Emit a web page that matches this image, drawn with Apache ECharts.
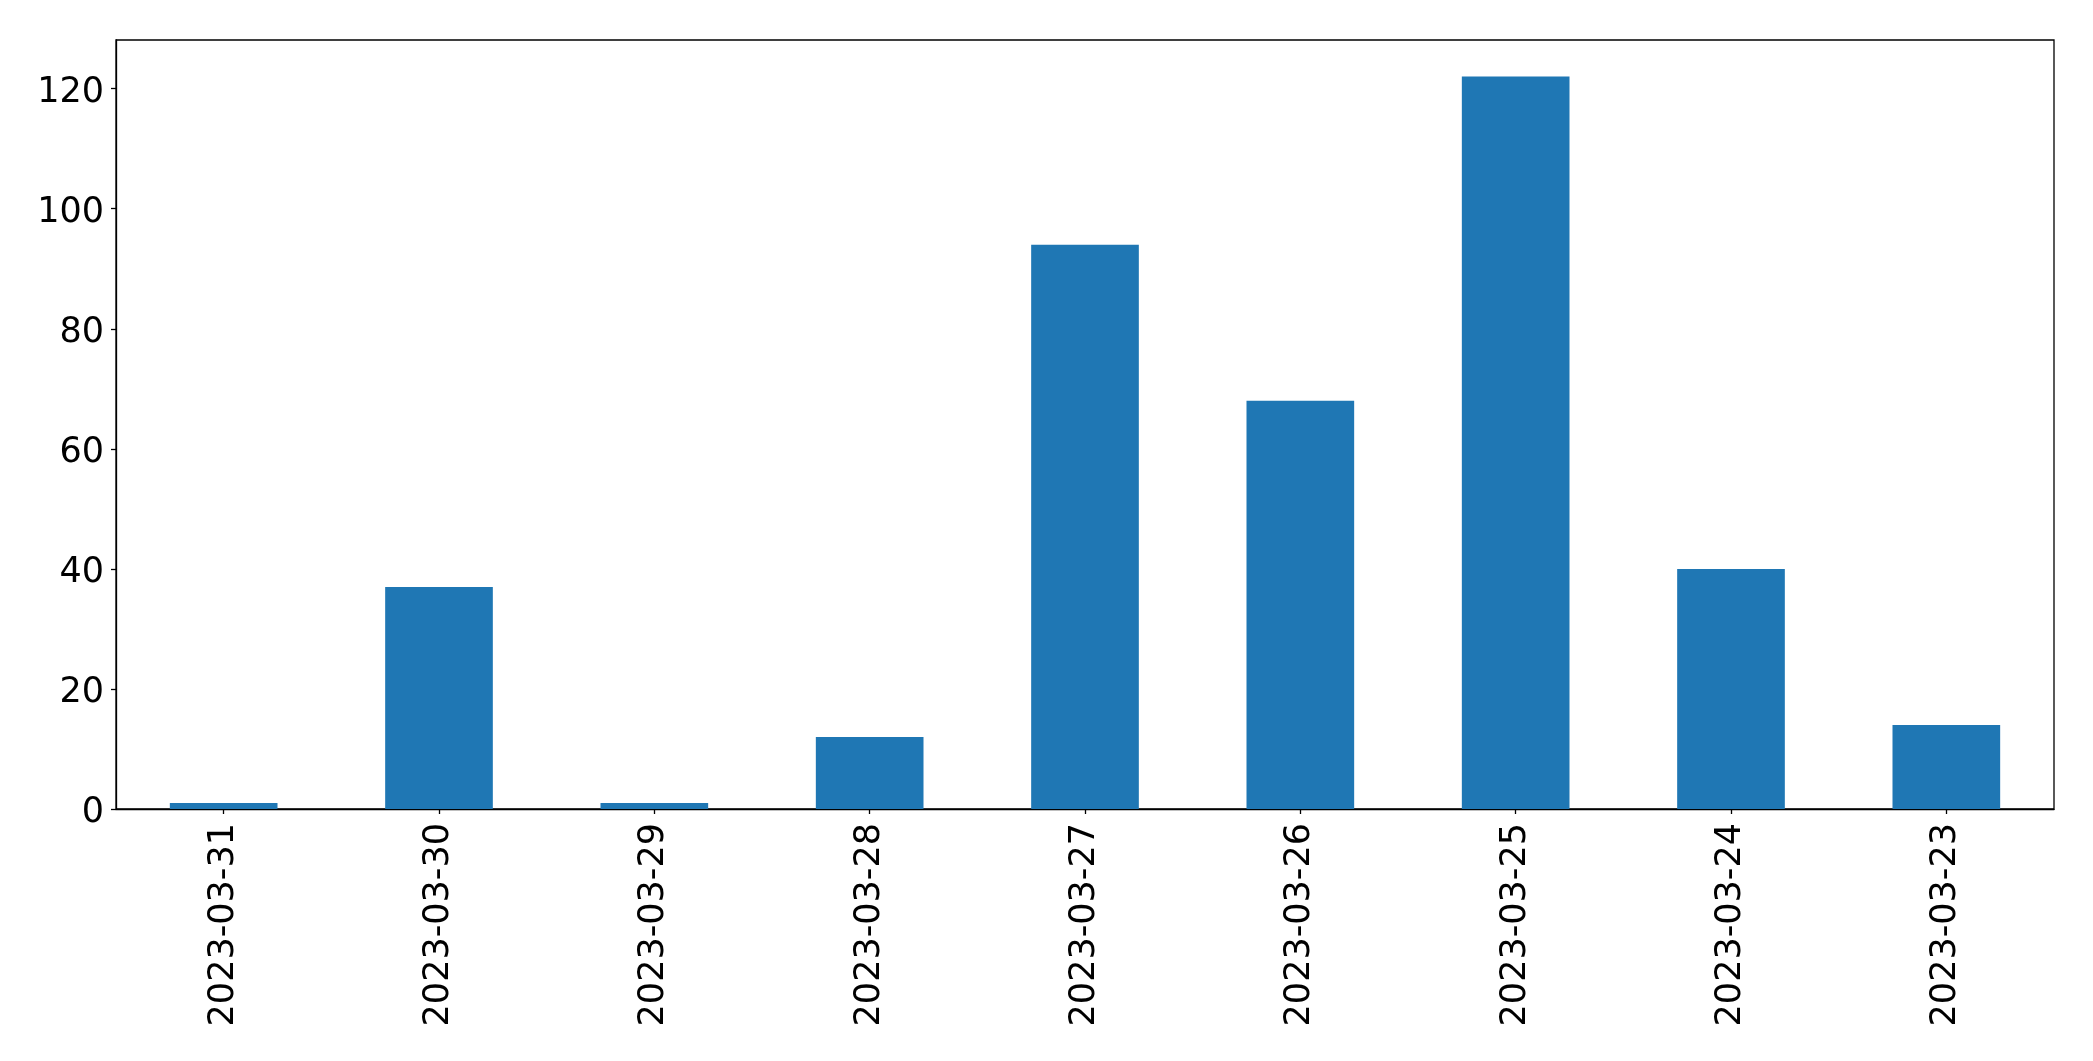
<!DOCTYPE html>
<html>
<head>
<meta charset="utf-8">
<script src="https://cdn.jsdelivr.net/npm/echarts@6/dist/echarts.min.js"></script>
<style>
html,body{margin:0;padding:0;background:#fff;}
#chart{width:2093px;height:1061px;}
</style>
</head>
<body>
<div id="chart"></div>
<script>
const categories = ['2023-03-31','2023-03-30','2023-03-29','2023-03-28','2023-03-27','2023-03-26','2023-03-25','2023-03-24','2023-03-23'];
const values = [1, 37, 1, 12, 94, 68, 122, 40, 14];
const yTicks = [0, 20, 40, 60, 80, 100, 120];

const chart = echarts.init(document.getElementById('chart'), null, {renderer: 'canvas'});
const font = 'DejaVu Sans';
chart.setOption({
  animation: false,
  backgroundColor: '#ffffff',
  grid: {
    left: 116, right: 39, top: 40, bottom: 252,
    show: true, borderColor: '#000', borderWidth: 1.3, backgroundColor: 'transparent'
  },
  xAxis: {
    type: 'category',
    data: categories,
    boundaryGap: true,
    axisLine: {show: true, lineStyle: {color: '#000', width: 1.3}},
    axisTick: {show: true, alignWithLabel: true, length: 5, lineStyle: {color: '#000', width: 1.3}},
    axisLabel: {rotate: 90, margin: 14, fontFamily: font, fontSize: 35, color: '#000', interval: 0},
    splitLine: {show: false}
  },
  yAxis: {
    type: 'value',
    min: 0,
    max: 128.1,
    axisLine: {show: true, lineStyle: {color: '#000', width: 1.3}},
    axisTick: {show: true, length: 5, lineStyle: {color: '#000', width: 1.3}, customValues: yTicks},
    axisLabel: {
      margin: 12, fontFamily: font, fontSize: 35, color: '#000', customValues: yTicks,
      formatter: '{a|{value}}',
      rich: {a: {fontFamily: font, fontSize: 35, color: '#000', padding: [8, 0, 0, 0]}}
    },
    splitLine: {show: false}
  },
  series: [{
    type: 'bar',
    data: values,
    barWidth: '50%',
    itemStyle: {color: '#1f77b4'}
  }]
});
</script>
</body>
</html>
